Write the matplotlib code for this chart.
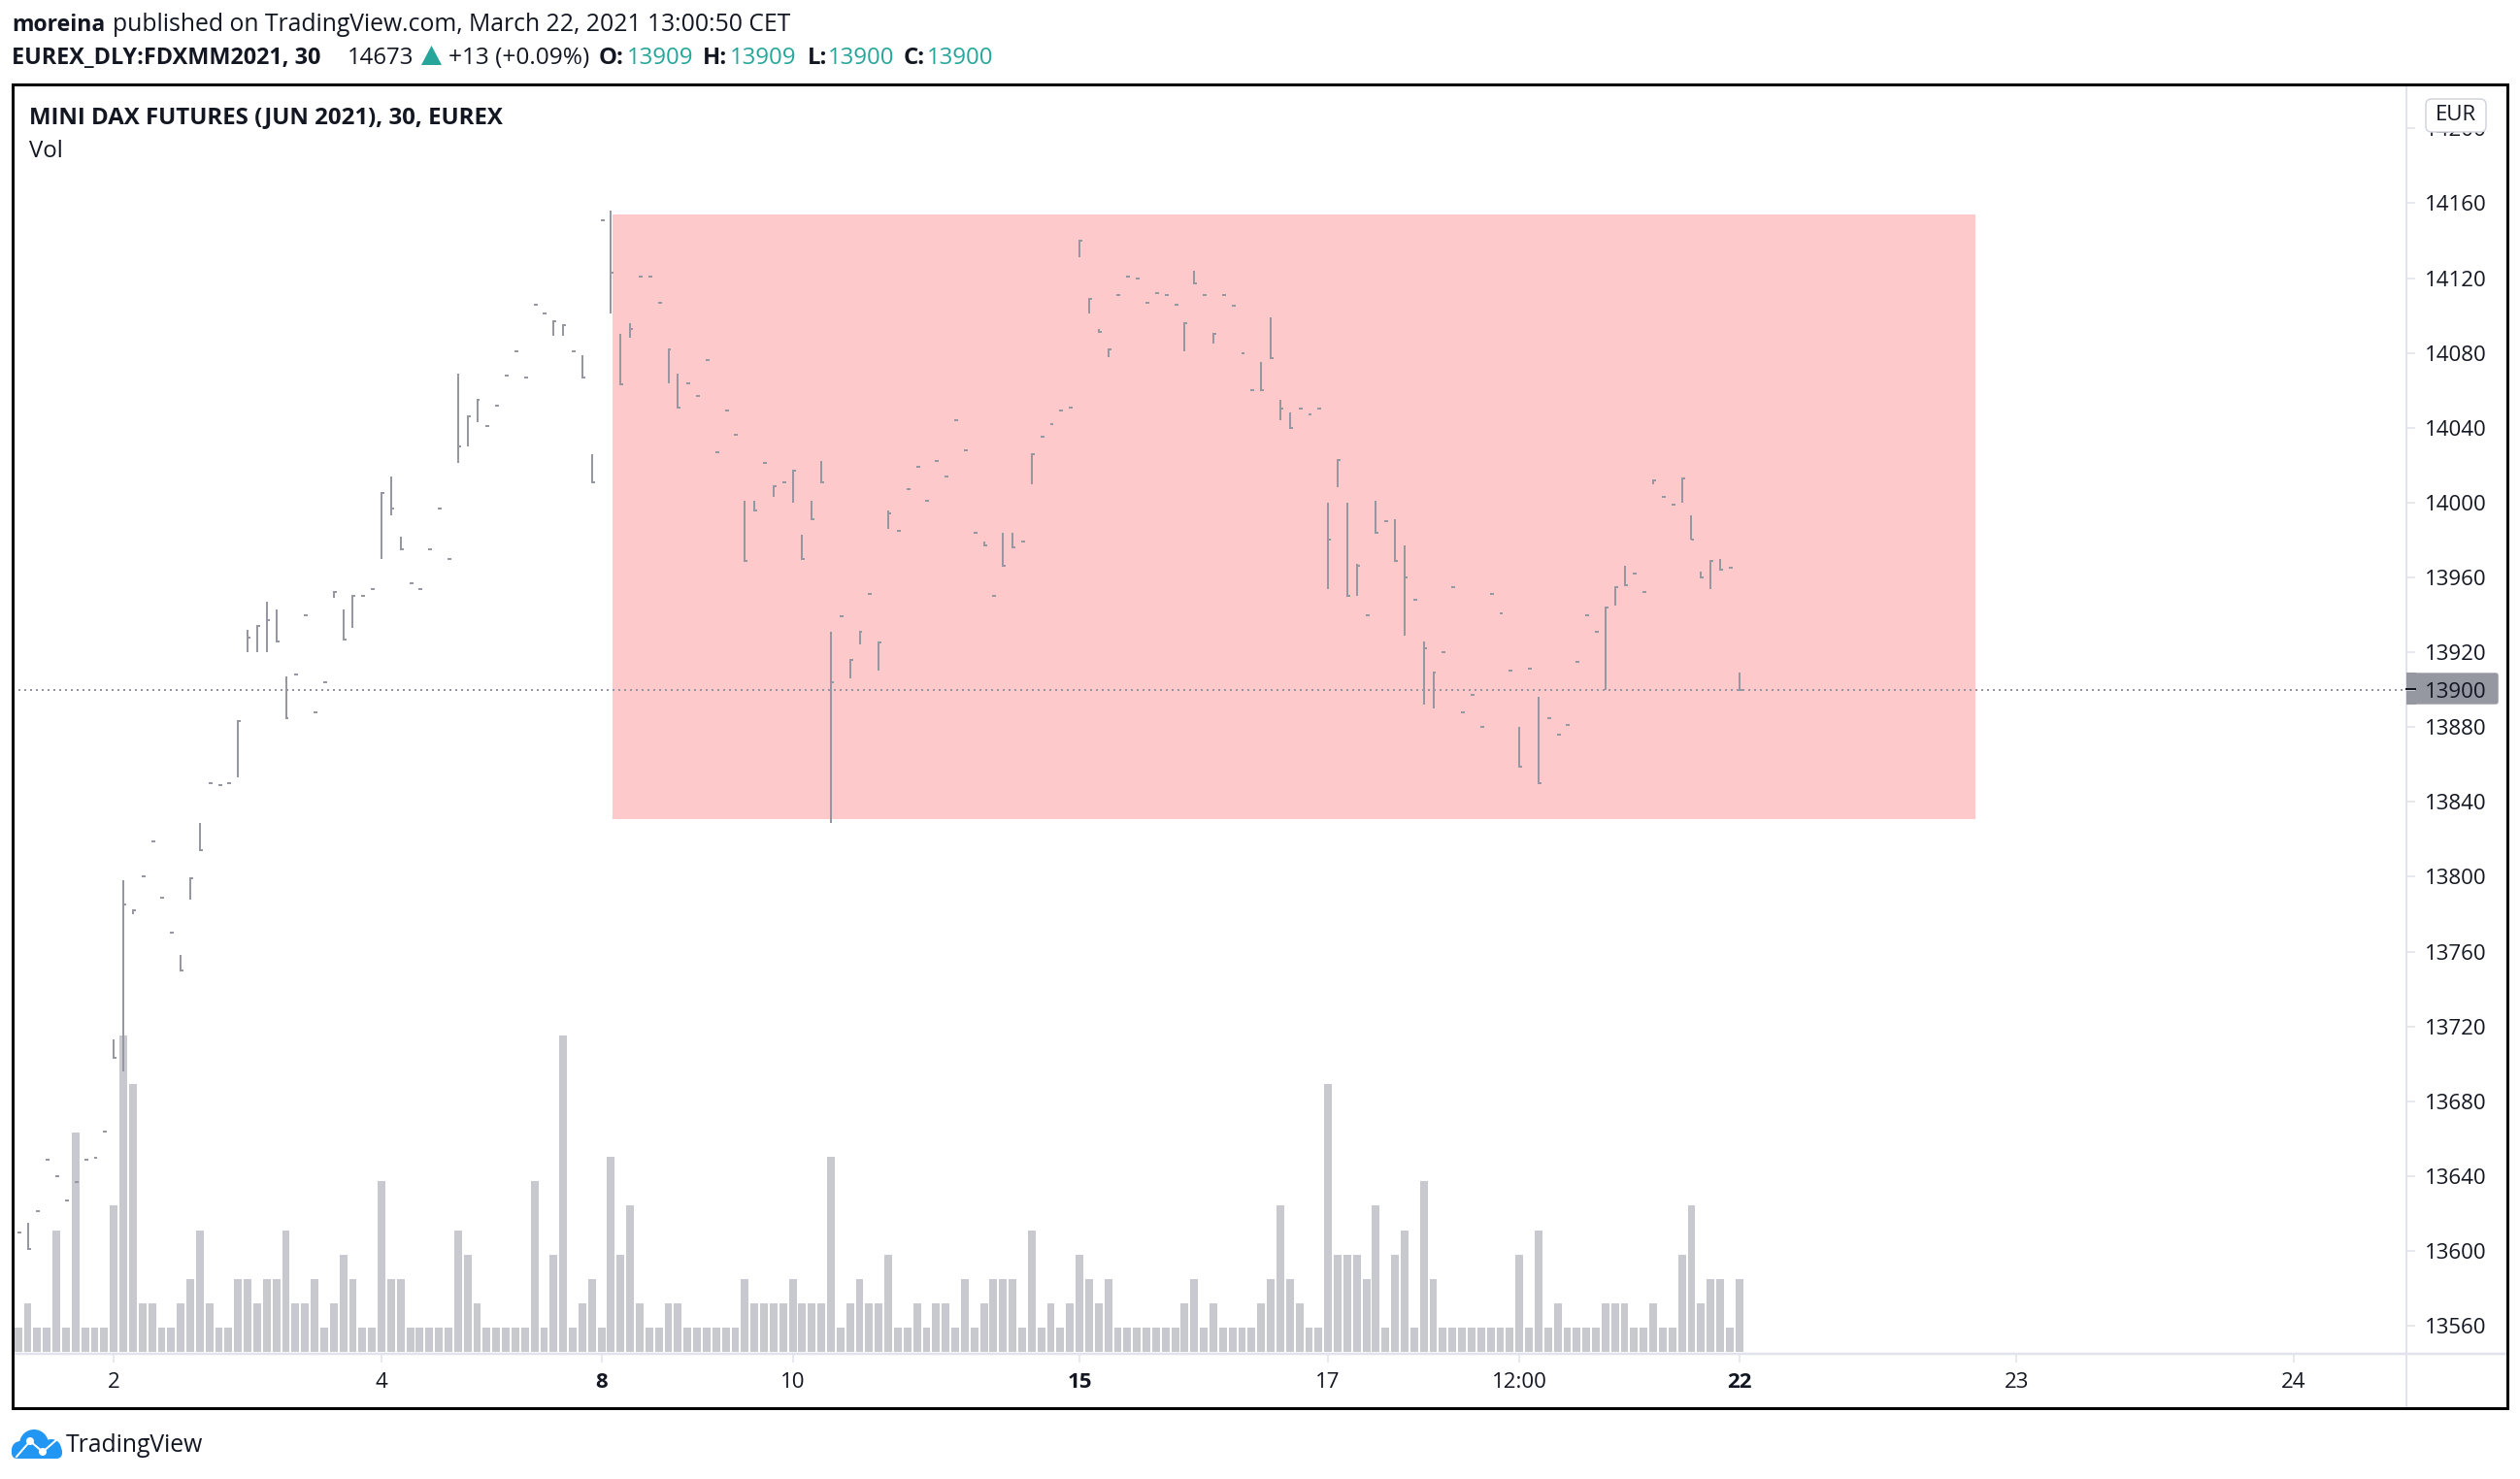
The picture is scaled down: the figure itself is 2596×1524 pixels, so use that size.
import matplotlib
matplotlib.use('Agg')
import matplotlib.pyplot as plt
from matplotlib.lines import Line2D
from matplotlib.patches import Rectangle, FancyBboxPatch, Circle, Polygon
from matplotlib.transforms import Affine2D

plt.rcParams['font.family'] = ['Open Sans', 'DejaVu Sans']

highs = [13610,13615,13621,13649,13640,13627,13637,13649,13650,13664,
         13713,13798,13782,13800,13819,13789,13770,13758,13799,13829,
         13850,13849,13850,13883,13932,13934,13947,13943,13907,13908,
         13940,13888,13904,13952,13943,13950,13950,13954,14005,14014,
         13982,13957,13954,13975,13997,13970,14069,14046,14055,14041,
         14052,14068,14081,14067,14106,14101,14097,14095,14081,14079,
         14026,14151,14156,14090,14096,14121,14121,14107,14082,14069,
         14064,14057,14076,14027,14049,14036,14001,14001,14021,14009,
         14011,14017,13983,14001,14022,13931,13939,13916,13931,13951,
         13925,13996,13985,14007,14019,14001,14022,14014,14044,14028,
         13984,13979,13950,13984,13984,13979,14026,14035,14042,14049,
         14051,14140,14109,14093,14082,14111,14121,14120,14107,14112,
         14111,14106,14096,14124,14111,14090,14111,14105,14080,14060,
         14075,14099,14055,14048,14050,14047,14050,14000,14023,14000,
         13967,13940,14001,13990,13991,13977,13948,13926,13909,13920,
         13955,13888,13897,13880,13951,13941,13910,13880,13911,13896,
         13885,13876,13881,13915,13940,13931,13944,13955,13966,13962,
         13952,14012,14003,13999,14013,13993,13963,13969,13970,13965,
         13909]
lows = [13610,13601,13621,13649,13640,13627,13637,13649,13650,13664,
        13703,13696,13780,13800,13819,13789,13770,13750,13788,13814,
        13850,13849,13850,13853,13920,13920,13920,13926,13885,13908,
        13940,13888,13904,13949,13927,13933,13950,13954,13970,13993,
        13975,13957,13954,13975,13997,13970,14021,14030,14043,14041,
        14052,14068,14081,14067,14106,14101,14089,14089,14081,14067,
        14011,14151,14101,14063,14088,14121,14121,14107,14064,14051,
        14064,14057,14076,14027,14049,14036,13969,13996,14021,14003,
        14011,14000,13970,13991,14011,13829,13939,13906,13924,13951,
        13910,13986,13985,14007,14019,14001,14022,14014,14044,14028,
        13984,13977,13950,13966,13976,13979,14010,14035,14042,14049,
        14051,14131,14101,14091,14078,14111,14121,14120,14107,14112,
        14111,14106,14081,14117,14111,14085,14111,14105,14080,14060,
        14060,14077,14044,14040,14050,14047,14050,13954,14008,13950,
        13950,13940,13984,13990,13969,13929,13948,13892,13890,13920,
        13955,13888,13897,13880,13951,13941,13910,13859,13911,13850,
        13885,13876,13881,13915,13940,13931,13900,13945,13956,13962,
        13952,14010,14003,13999,14000,13980,13960,13954,13964,13965,
        13900]
closes = [13610,13601,13621,13649,13640,13627,13637,13649,13650,13664,
          13703,13785,13782,13800,13819,13789,13770,13750,13799,13814,
          13850,13849,13850,13883,13928,13934,13937,13926,13885,13908,
          13940,13888,13904,13952,13927,13950,13950,13954,14005,13997,
          13975,13957,13954,13975,13997,13970,14030,14046,14055,14041,
          14052,14068,14081,14067,14106,14101,14097,14095,14081,14067,
          14011,14151,14123,14063,14093,14121,14121,14107,14082,14051,
          14064,14057,14076,14027,14049,14036,13969,13996,14021,14009,
          14011,14017,13970,13991,14011,13904,13939,13916,13931,13951,
          13925,13994,13985,14007,14019,14001,14022,14014,14044,14028,
          13984,13977,13950,13966,13976,13979,14026,14035,14042,14049,
          14051,14140,14109,14091,14082,14111,14121,14120,14107,14112,
          14111,14106,14096,14117,14111,14090,14111,14105,14080,14060,
          14060,14077,14050,14040,14050,14047,14050,13980,14023,13950,
          13966,13940,13984,13990,13969,13960,13948,13922,13909,13920,
          13955,13888,13897,13880,13951,13941,13910,13859,13911,13850,
          13885,13876,13881,13915,13940,13931,13944,13955,13956,13962,
          13952,14012,14003,13999,14013,13980,13960,13969,13964,13965,
          13900]
volumes = [1,2,1,1,5,1,9,1,1,1,
           6,13,11,2,2,1,1,2,3,5,
           2,1,1,3,3,2,3,3,5,2,
           2,3,1,2,4,3,1,1,7,3,
           3,1,1,1,1,1,5,4,2,1,
           1,1,1,1,7,1,4,13,1,2,
           3,1,8,4,6,2,1,1,2,2,
           1,1,1,1,1,1,3,2,2,2,
           2,3,2,2,2,8,1,2,3,2,
           2,4,1,1,2,1,2,2,1,3,
           1,2,3,3,3,1,5,1,2,1,
           2,4,3,2,3,1,1,1,1,1,
           1,1,2,3,1,2,1,1,1,1,
           2,3,6,3,2,1,1,11,4,4,
           4,3,6,1,4,5,1,7,3,1,
           1,1,1,1,1,1,1,4,1,5,
           1,2,1,1,1,1,2,2,2,1,
           1,2,1,1,4,6,2,3,3,1,
           3]

time_ticks = [10, 38, 61, 81, 111, 137, 157, 180, 209, 238]
time_labels = ['2', '4', '8', '10', '15', '17', '12:00', '22', '23', '24']
bold_times = ['8', '15', '22']
price_ticks = list(range(13560, 14201, 40)) + [13900]
last_price = 13900
box_prices = [13831, 14154]
box_bars = [62.2, 204.7]

W, H = 2596, 1524
DARK = '#131722'
GREY = '#9598a1'
LINE = '#e0e3eb'
TEAL = '#26a69a'
PX = 0.72  # one pixel in points at dpi 100

fig = plt.figure(figsize=(W / 100, H / 100), dpi=100, facecolor='white')
pix = Affine2D().scale(1 / W, -1 / H).translate(0, 1) + fig.transFigure

# pane in pixels: x 13..2479, y 88..1395
pos = [13 / W, 1 - 1395 / H, (2479 - 13) / W, (1395 - 88) / H]
xlim = (-0.579, 249.77)

ax_vol = fig.add_axes(pos, zorder=0)
ax_vol.bar(range(len(volumes)), volumes, width=0.8, color='#c8c9ce')
ax_vol.set_xlim(xlim)
ax_vol.set_ylim(-0.08, 52)
ax_vol.axis('off')

ax = fig.add_axes(pos, zorder=1)
ax.patch.set_visible(False)
ax.set_xlim(xlim)
ax.set_ylim(13545, 14223)
for s in ax.spines.values():
    s.set_visible(False)

ax.add_patch(Rectangle((box_bars[0], box_prices[0]), box_bars[1] - box_bars[0],
                       box_prices[1] - box_prices[0], facecolor='#fec9ca',
                       edgecolor='none', zorder=1))
ax.axhline(last_price, color=GREY, lw=2 * PX, linestyle=(0, (1, 2)), zorder=1.5)

bars = list(range(len(closes)))
ax.vlines(bars, lows, highs, color=GREY, lw=2 * PX, antialiased=False, zorder=3)
ax.hlines(closes, [b - 0.1 for b in bars], [b + 0.3 for b in bars], color=GREY,
          lw=2 * PX, antialiased=False, zorder=3)

ax.yaxis.tick_right()
ax.set_yticks(price_ticks)
ax.set_yticklabels([str(p) for p in price_ticks])
ax.tick_params(axis='y', length=9 * PX, width=1.5 * PX, color=LINE, pad=10 * PX,
               labelsize=16, labelcolor=DARK)
ax.set_xticks(time_ticks)
ax.set_xticklabels(time_labels)
ax.tick_params(axis='x', length=9 * PX, width=1.5 * PX, color=LINE, pad=10 * PX,
               labelsize=16, labelcolor=DARK)
for lab in ax.get_xticklabels():
    if lab.get_text() in bold_times:
        lab.set_fontweight('bold')

# last price tag
ax.add_patch(FancyBboxPatch((2481, 694), 92, 31, boxstyle='round,pad=0,rounding_size=2',
                            transform=pix, facecolor=GREY, edgecolor=GREY,
                            clip_on=False, zorder=1))
ax.add_patch(Rectangle((2479, 693), 10, 33, transform=pix, facecolor=GREY, edgecolor='none',
                       clip_on=False, zorder=1))
ax.add_line(Line2D([2479, 2488], [709.5, 709.5], transform=pix, color=DARK, lw=2 * PX,
                   clip_on=False, zorder=4))

# chrome around the pane
fig.add_artist(Line2D([13, 2583], [1395, 1395], transform=pix, color=LINE, lw=2.5 * PX, zorder=1))
fig.add_artist(Line2D([2479, 2479], [88, 1451], transform=pix, color=LINE, lw=2 * PX, zorder=1))
fig.add_artist(Rectangle((13, 87), 2570, 1364, transform=pix, fill=False, edgecolor='black',
                         lw=3 * PX, zorder=6))
fig.add_artist(FancyBboxPatch((2499, 102), 62, 34, boxstyle='round,pad=0,rounding_size=6',
                              transform=pix, facecolor='white', edgecolor='#d1d4dc',
                              lw=1.5 * PX, zorder=5))


def label(x, y, s, size=17.3, color=DARK, weight='normal', ha='left', zorder=7):
    fig.text(x, y, s, transform=pix, fontsize=size, color=color, fontweight=weight,
             va='center', ha=ha, zorder=zorder)


label(2530, 118, 'EUR', size=16, ha='center')
label(12, 26, 'moreina', size=16.6, weight='bold')
label(116, 26, 'published on TradingView.com, March 22, 2021 13:00:50 CET', size=17.8)
label(12, 60, 'EUREX_DLY:FDXMM2021, 30', size=16.8, weight='bold')
label(358, 60, '14673')
fig.add_artist(Polygon([[434, 67], [455, 67], [444.5, 47]], transform=pix, facecolor=TEAL,
                       edgecolor='none', zorder=7))
label(462, 60, '+13 (+0.09%)', size=17.6)
for x_lab, x_val, lab, val in [(617, 646, 'O:', '13909'), (724, 752, 'H:', '13909'),
                               (832, 853, 'L:', '13900'), (931, 955, 'C:', '13900')]:
    label(x_lab, 60, lab, weight='bold')
    label(x_val, 60, val, color=TEAL)
label(30, 121, 'MINI DAX FUTURES (JUN 2021), 30, EUREX', weight='bold')
label(30, 156, 'Vol')

# TradingView logo
BLUE = '#2196f3'
for cx, cy, r in [(35, 1488, 15), (21, 1494, 9), (53, 1493, 10)]:
    fig.add_artist(Circle((cx, cy), r, transform=pix, facecolor=BLUE, edgecolor='none', zorder=7))
fig.add_artist(FancyBboxPatch((12, 1490), 52, 13, boxstyle='round,pad=0,rounding_size=6',
                              transform=pix, facecolor=BLUE, edgecolor='none', zorder=7))
fig.add_artist(Line2D([17, 31, 44, 59], [1501, 1485, 1496, 1483], transform=pix, color='white',
                      lw=2 * PX, zorder=8))
for cx, cy in [(31, 1485), (44, 1496)]:
    fig.add_artist(Circle((cx, cy), 4, transform=pix, facecolor='white', edgecolor='none', zorder=8))
label(68, 1489, 'TradingView', size=17.8)

fig.savefig('out.png', dpi=100)
